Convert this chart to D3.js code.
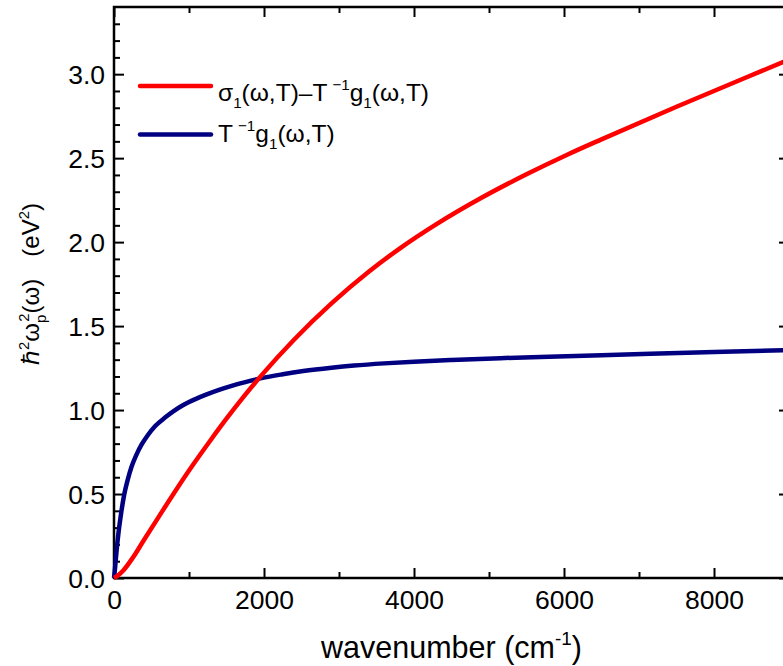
<!DOCTYPE html>
<html><head><meta charset="utf-8">
<script src="https://cdn.jsdelivr.net/npm/d3@7"></script>
<style>
body{margin:0;background:#fff}
text{font-family:"Liberation Sans",Arial,Helvetica,sans-serif;fill:#000}
</style>
</head><body>
<svg id="c" width="783" height="666"></svg>
<script>
// ---- data ----
const redX = [0,60,124,250,391,613,836,1058,1280,1502,1724,1969,2400,2900,3400,3813,4300,4900,5500,6036,6500,7500,8920,9000];
const redY = [0,0.018,0.045,0.12,0.22,0.376,0.530,0.677,0.816,0.950,1.077,1.208,1.419,1.635,1.825,1.963,2.107,2.264,2.404,2.519,2.612,2.806,3.072,3.087];
const blueX = [0,10,20,36,60,90,133,180,236,300,369,450,550,680,800,924,1100,1236,1400,1591,1800,1969,2250,2524,2900,3200,3600,4000,4500,5150,5800,6500,7150,8000,9000];
const blueY = [0,0.04,0.09,0.17,0.27,0.37,0.49,0.58,0.665,0.735,0.795,0.85,0.905,0.955,0.995,1.03,1.068,1.093,1.12,1.147,1.172,1.19,1.213,1.232,1.252,1.265,1.278,1.288,1.298,1.309,1.318,1.327,1.335,1.345,1.357];
const xMajorTicks = [0,2000,4000,6000,8000];
const xMinorTicks = [1000,3000,5000,7000,9000];
const yMajorTicks = [0,0.5,1.0,1.5,2.0,2.5,3.0];
const yMinorTicks = [0.1,0.2,0.3,0.4,0.6,0.7,0.8,0.9,1.1,1.2,1.3,1.4,1.6,1.7,1.8,1.9,2.1,2.2,2.3,2.4,2.6,2.7,2.8,2.9,3.1,3.2,3.3];

// ---- layout ----
const L=114, R=789, T=7, B=578;
const svg = d3.select("#c");
const x = d3.scaleLinear().domain([0,9000]).range([L,R]);
const y = d3.scaleLinear().domain([0,3.4]).range([B,T]);
const FONT = '"Liberation Sans",Arial,sans-serif';

function axisStyle(g){
  g.select(".domain").remove();
  g.selectAll(".tick line").attr("stroke","#000").attr("stroke-width",2);
}
// bottom
svg.append("g").attr("transform",`translate(0,${B})`)
  .call(d3.axisBottom(x).tickValues(xMajorTicks).tickSize(-10).tickSizeOuter(0).tickFormat(d3.format("d")))
  .call(axisStyle)
  .call(g=>g.selectAll(".tick text").attr("y",30.5).attr("dy",0).attr("font-size",26.5).attr("font-family",FONT));
svg.append("g").attr("transform",`translate(0,${B})`)
  .call(d3.axisBottom(x).tickValues(xMinorTicks).tickSize(-6).tickFormat(""))
  .call(axisStyle);
// top
svg.append("g").attr("transform",`translate(0,${T})`)
  .call(d3.axisTop(x).tickValues(xMajorTicks).tickSize(-10).tickFormat(""))
  .call(axisStyle);
svg.append("g").attr("transform",`translate(0,${T})`)
  .call(d3.axisTop(x).tickValues(xMinorTicks).tickSize(-6).tickFormat(""))
  .call(axisStyle);
// left
svg.append("g").attr("transform",`translate(${L},0)`)
  .call(d3.axisLeft(y).tickValues(yMajorTicks).tickSize(-10).tickFormat(d3.format(".1f")))
  .call(axisStyle)
  .call(g=>g.selectAll(".tick text").attr("x",-9).attr("dy","0.36em").attr("font-size",26.5).attr("font-family",FONT));
svg.append("g").attr("transform",`translate(${L},0)`)
  .call(d3.axisLeft(y).tickValues(yMinorTicks).tickSize(-6).tickFormat(""))
  .call(axisStyle);
// right
svg.append("g").attr("transform",`translate(${R},0)`)
  .call(d3.axisRight(y).tickValues(yMajorTicks).tickSize(-10).tickFormat(""))
  .call(axisStyle);
svg.append("g").attr("transform",`translate(${R},0)`)
  .call(d3.axisRight(y).tickValues(yMinorTicks).tickSize(-6).tickFormat(""))
  .call(axisStyle);

// frame
svg.append("rect").attr("x",L).attr("y",T).attr("width",R-L).attr("height",B-T)
  .attr("fill","none").attr("stroke","#000").attr("stroke-width",2.5);

// curves
const line = d3.line().x(d=>x(d[0])).y(d=>y(d[1])).curve(d3.curveMonotoneX);
const blueData = blueX.map((v,i)=>[v,blueY[i]]);
const redData = redX.map((v,i)=>[v,redY[i]]);
svg.append("path").datum(blueData).attr("d",line).attr("fill","none")
  .attr("stroke","#000080").attr("stroke-width",4.5).attr("stroke-linejoin","round");
svg.append("path").datum(redData).attr("d",line).attr("fill","none")
  .attr("stroke","#ff0000").attr("stroke-width",4.5).attr("stroke-linejoin","round");

// legend
const leg = svg.append("g");
leg.append("line").attr("x1",140).attr("x2",211).attr("y1",86).attr("y2",86)
  .attr("stroke","#ff0000").attr("stroke-width",4.5).attr("stroke-linecap","round");
leg.append("line").attr("x1",140).attr("x2",211).attr("y1",134.5).attr("y2",134.5)
  .attr("stroke","#000080").attr("stroke-width",4.5).attr("stroke-linecap","round");

function rich(t, parts, fs){
  let shift=0;
  parts.forEach(([s,tp,dx])=>{
    const ts=t.append("tspan").text(s);
    let target = tp==="b"? 0.3*fs : tp==="p"? -0.42*fs : 0;
    ts.attr("dy", target-shift);
    shift=target;
    ts.attr("font-size", tp==="n"? fs : fs*0.62);
    if(dx) ts.attr("dx",dx);
  });
}
const l1 = leg.append("text").attr("x",218).attr("y",100.5);
rich(l1,[["σ","n"],["1","b"],["(ω,T)–T","n"],["−1","p",5],["g","n"],["1","b"],["(ω,T)","n"]],24.5);
const l2 = leg.append("text").attr("x",218).attr("y",141.5);
rich(l2,[["T","n"],["−1","p",5],["g","n"],["1","b"],["(ω,T)","n"]],24.5);

// x title
const xt = svg.append("text").attr("x",451.5).attr("y",658).attr("text-anchor","middle");
rich(xt,[["wavenumber (cm","n"],["-1","p"],[")","n"]],30.5);
// y title
const yt = svg.append("text").attr("transform","translate(39,284) rotate(-90)").attr("text-anchor","middle");
rich(yt,[["ℏ","n"],["2","p"],["ω","n"],["p","b"],["2","p",-7],["(ω)","n"],["(eV","n",22],["2","p"],[")","n"]],24);
</script>
</body></html>
